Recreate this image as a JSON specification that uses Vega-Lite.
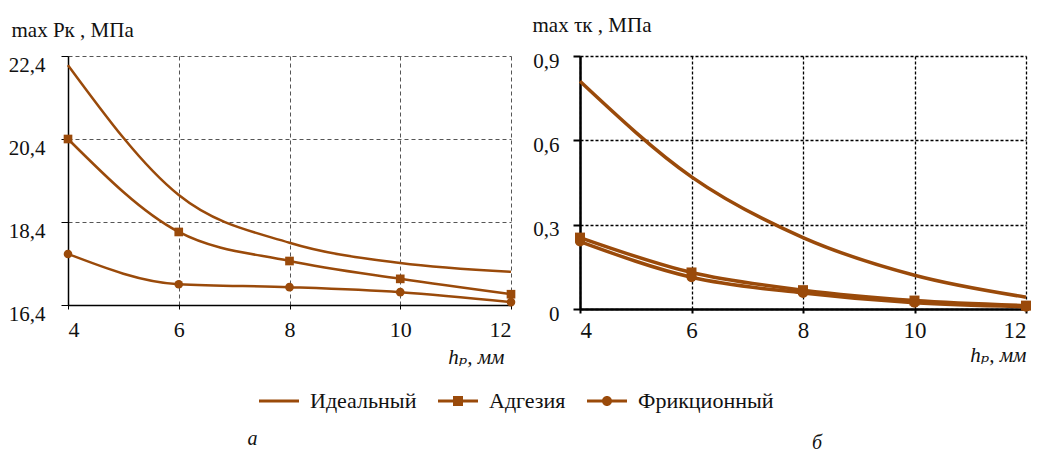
{
  "$schema": "https://vega.github.io/schema/vega-lite/v6.json",
  "padding": {"left": 8, "top": 14, "right": 5, "bottom": 5},
  "background": "white",
  "bounds": "flush",
  "spacing": 69,
  "config": {
    "view": {"stroke": null},
    "font": "'Liberation Serif', 'Times New Roman', 'DejaVu Serif', serif",
    "axis": {"labelFont": "'Liberation Serif', 'Times New Roman', 'DejaVu Serif', serif", "titleFont": "'Liberation Serif', 'Times New Roman', 'DejaVu Serif', serif", "labelColor": "#111", "titleColor": "#111", "titleFontWeight": "normal"},
    "legend": {"labelFont": "'Liberation Serif', 'Times New Roman', 'DejaVu Serif', serif"},
    "title": {"font": "'Liberation Serif', 'Times New Roman', 'DejaVu Serif', serif", "fontWeight": "normal"}
  },
  "datasets": {
    "a": [
      {"h": 4, "series": "Идеальный", "v": 22.18},
      {"h": 6, "series": "Идеальный", "v": 19.05},
      {"h": 8, "series": "Идеальный", "v": 17.9},
      {"h": 10, "series": "Идеальный", "v": 17.41},
      {"h": 12, "series": "Идеальный", "v": 17.2},
      {"h": 4, "series": "Адгезия", "v": 20.4},
      {"h": 6, "series": "Адгезия", "v": 18.16},
      {"h": 8, "series": "Адгезия", "v": 17.46},
      {"h": 10, "series": "Адгезия", "v": 17.03},
      {"h": 12, "series": "Адгезия", "v": 16.66},
      {"h": 4, "series": "Фрикционный", "v": 17.63},
      {"h": 6, "series": "Фрикционный", "v": 16.9},
      {"h": 8, "series": "Фрикционный", "v": 16.83},
      {"h": 10, "series": "Фрикционный", "v": 16.71},
      {"h": 12, "series": "Фрикционный", "v": 16.47}
    ],
    "b": [
      {"h": 4, "series": "Идеальный", "v": 0.81},
      {"h": 6, "series": "Идеальный", "v": 0.47},
      {"h": 8, "series": "Идеальный", "v": 0.254},
      {"h": 10, "series": "Идеальный", "v": 0.12},
      {"h": 12, "series": "Идеальный", "v": 0.042},
      {"h": 4, "series": "Адгезия", "v": 0.254},
      {"h": 6, "series": "Адгезия", "v": 0.13},
      {"h": 8, "series": "Адгезия", "v": 0.067},
      {"h": 10, "series": "Адгезия", "v": 0.03},
      {"h": 12, "series": "Адгезия", "v": 0.012},
      {"h": 4, "series": "Фрикционный", "v": 0.24},
      {"h": 6, "series": "Фрикционный", "v": 0.113},
      {"h": 8, "series": "Фрикционный", "v": 0.057},
      {"h": 10, "series": "Фрикционный", "v": 0.022},
      {"h": 12, "series": "Фрикционный", "v": 0.008}
    ]
  },
  "hconcat": [
    {
      "width": 443,
      "height": 249,
      "data": {"name": "a"},
      "title": {"text": "а", "orient": "bottom", "fontStyle": "italic", "fontSize": 20, "offset": 62, "dx": -37, "color": "#111"},
      "encoding": {
        "x": {"field": "h", "type": "quantitative",
          "scale": {"domain": [4, 12], "nice": false, "zero": false},
          "axis": {"values": [4, 6, 8, 10, 12], "title": "hₚ, мм", "titleFontStyle": "italic", "titleFontSize": 21, "titleAlign": "right", "titleAnchor": "end", "titleX": 436, "titleY": 58, "titleBaseline": "alphabetic",
            "labelFontSize": 22, "labelPadding": 10, "tickSize": 4, "domainColor": "#000", "domainWidth": 1.5, "tickColor": "#000",
            "grid": true, "gridDash": [4, 3], "gridColor": "#555", "gridWidth": 1}},
        "y": {"field": "v", "type": "quantitative",
          "scale": {"domain": [16.4, 22.4], "nice": false, "zero": false},
          "axis": {"values": [16.4, 18.4, 20.4, 22.4], "labelExpr": "replace(format(datum.value, '.1f'), '.', ',')",
            "title": "max Pк , МПа", "titleAngle": 0, "titleAlign": "left", "titleBaseline": "alphabetic", "titleX": -57, "titleY": -20, "titleFontSize": 21,
            "labelFontSize": 21, "labelPadding": 16, "labelOffset": 9, "tickSize": 7, "domainColor": "#000", "domainWidth": 1.5, "tickColor": "#000",
            "grid": true, "gridDash": [4, 3], "gridColor": "#555", "gridWidth": 1}}
      },
      "layer": [
        {
          "mark": {"type": "line", "interpolate": "monotone", "strokeWidth": 2.5},
          "encoding": {"color": {"field": "series", "type": "nominal",
            "scale": {"domain": ["Идеальный", "Адгезия", "Фрикционный"], "range": ["#9a4a0a", "#9a4a0a", "#9a4a0a"]}}}
        },
        {
          "transform": [{"filter": "datum.series !== 'Идеальный'"}],
          "mark": {"type": "point", "filled": true, "opacity": 1, "color": "#9a4a0a", "size": 75},
          "encoding": {"shape": {"field": "series", "type": "nominal",
            "scale": {"domain": ["Адгезия", "Фрикционный"], "range": ["square", "circle"]}, "legend": null}}
        }
      ]
    },
    {
      "width": 446,
      "height": 253,
      "data": {"name": "b"},
      "title": {"text": "б", "orient": "bottom", "fontStyle": "italic", "fontSize": 20, "offset": 68, "dx": 14, "color": "#111"},
      "encoding": {
        "x": {"field": "h", "type": "quantitative",
          "scale": {"domain": [4, 12], "nice": false, "zero": false},
          "axis": {"values": [4, 6, 8, 10, 12], "title": "hₚ, мм", "titleFontStyle": "italic", "titleFontSize": 21, "titleAlign": "right", "titleAnchor": "end", "titleX": 446, "titleY": 52, "titleBaseline": "alphabetic",
            "labelFontSize": 23, "labelPadding": 6, "tickSize": 4, "domainColor": "#000", "domainWidth": 2.5, "tickColor": "#000", "tickWidth": 2,
            "grid": true, "gridDash": [3, 2], "gridColor": "#000", "gridWidth": 1.3}},
        "y": {"field": "v", "type": "quantitative",
          "scale": {"domain": [0, 0.9], "nice": false, "zero": false},
          "axis": {"values": [0, 0.3, 0.6, 0.9], "labelExpr": "datum.value == 0 ? '0' : replace(format(datum.value, '.1f'), '.', ',')",
            "title": "max τк , МПа", "titleAngle": 0, "titleAlign": "left", "titleBaseline": "alphabetic", "titleX": -48, "titleY": -25, "titleFontSize": 21,
            "labelFontSize": 21, "labelPadding": 14, "labelOffset": 5, "tickSize": 7, "domainColor": "#000", "domainWidth": 2.5, "tickColor": "#000", "tickWidth": 2,
            "grid": true, "gridDash": [3, 2], "gridColor": "#000", "gridWidth": 1.3}}
      },
      "layer": [
        {
          "mark": {"type": "line", "interpolate": "monotone", "strokeWidth": 3.5},
          "encoding": {"color": {"field": "series", "type": "nominal",
            "scale": {"domain": ["Идеальный", "Адгезия", "Фрикционный"], "range": ["#9a4a0a", "#9a4a0a", "#9a4a0a"]},
            "legend": {"title": null, "orient": "none", "legendX": 191, "legendY": 325, "direction": "horizontal",
              "labelFontSize": 22, "labelColor": "#111", "labelOffset": 11, "columnPadding": 21, "symbolSize": 1600, "symbolType": "square",
              "encode": {"symbols": {"update": {
                "shape": {"signal": "datum.value === 'Адгезия' ? 'M-1,-0.075H1V0.075H-1Z M-0.25,-0.25H0.25V0.25H-0.25Z' : datum.value === 'Фрикционный' ? 'M-1,-0.075H1V0.075H-1Z M0.25,0 A0.25,0.25 0 1,1 -0.25,0 A0.25,0.25 0 1,1 0.25,0 Z' : 'M-1,-0.075H1V0.075H-1Z'"},
                "fill": {"value": "#9a4a0a"}, "fillOpacity": {"value": 1}, "strokeWidth": {"value": 0}, "opacity": {"value": 1}}}}}}}
        },
        {
          "transform": [{"filter": "datum.series !== 'Идеальный'"}],
          "mark": {"type": "point", "filled": true, "opacity": 1, "color": "#9a4a0a", "size": 100},
          "encoding": {"shape": {"field": "series", "type": "nominal",
            "scale": {"domain": ["Адгезия", "Фрикционный"], "range": ["square", "circle"]}, "legend": null}}
        }
      ]
    }
  ]
}
